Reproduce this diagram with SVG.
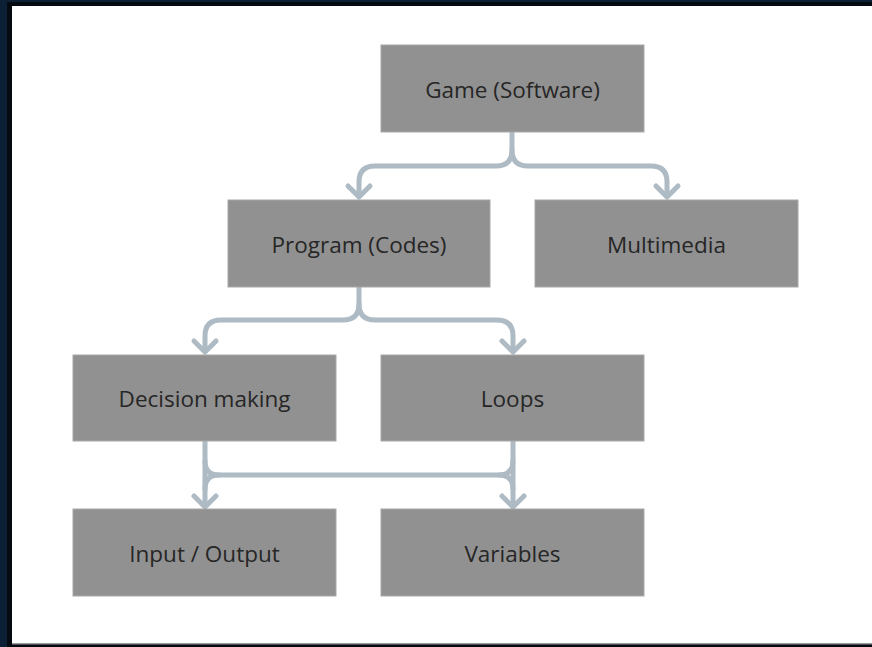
<svg xmlns="http://www.w3.org/2000/svg" width="872" height="647" viewBox="0 0 872 647">
<style>
.box{fill:#919191;stroke:#a8a8a8;stroke-width:1}
.lbl{font-family:"Open Sans","Liberation Sans",sans-serif;font-size:22.5px;fill:#262626;text-anchor:middle;dominant-baseline:central}
.c{fill:none;stroke:#aebbc4;stroke-width:5;stroke-linecap:round;stroke-linejoin:round}
</style>
<rect x="0" y="0" width="872" height="647" fill="#0b1f35"/>
<rect x="7" y="2" width="865" height="645" fill="#050a10"/>
<rect x="12" y="6" width="860" height="638" fill="#ffffff"/>
<rect x="12" y="643" width="860" height="1.5" fill="#9a9a9a"/>
<g id="connectors">
<path class="c" d="M512,133 V150 Q512,166 496,166 H375 Q359,166 359,182 V196"/>
<path class="c" d="M512,150 Q512,166 528,166 H651 Q667,166 667,182 V196"/>
<path class="c" d="M348,186 L359,197 L370,186"/>
<path class="c" d="M656,186 L667,197 L678,186"/>
<path class="c" d="M359,288 V304 Q359,320 343,320 H221 Q205,320 205,336 V351"/>
<path class="c" d="M359,304 Q359,320 375,320 H497 Q513,320 513,336 V351"/>
<path class="c" d="M194,341 L205,352 L216,341"/>
<path class="c" d="M502,341 L513,352 L524,341"/>
<path class="c" d="M205,442 V506"/>
<path class="c" d="M513,442 V506"/>
<path class="c" d="M205,461 Q205,475 219,475 H499 Q513,475 513,461"/>
<path class="c" d="M205,489 Q205,475 219,475 M499,475 Q513,475 513,489"/>
<path class="c" d="M194,496 L205,507 L216,496"/>
<path class="c" d="M502,496 L513,507 L524,496"/>
</g>
<g id="game"><rect class="box" x="381" y="45" width="263" height="87"/><text class="lbl" x="512.5" y="89">Game (Software)</text></g>
<g id="program"><rect class="box" x="228" y="200" width="262" height="87"/><text class="lbl" x="359" y="244">Program (Codes)</text></g>
<g id="multimedia"><rect class="box" x="535" y="200" width="263" height="87"/><text class="lbl" x="666.5" y="244">Multimedia</text></g>
<g id="decision"><rect class="box" x="73" y="355" width="263" height="86"/><text class="lbl" x="204.5" y="398">Decision making</text></g>
<g id="loops"><rect class="box" x="381" y="355" width="263" height="86"/><text class="lbl" x="512.5" y="398">Loops</text></g>
<g id="io"><rect class="box" x="73" y="509" width="263" height="87"/><text class="lbl" x="204.5" y="553">Input / Output</text></g>
<g id="variables"><rect class="box" x="381" y="509" width="263" height="87"/><text class="lbl" x="512.5" y="553">Variables</text></g>
</svg>
